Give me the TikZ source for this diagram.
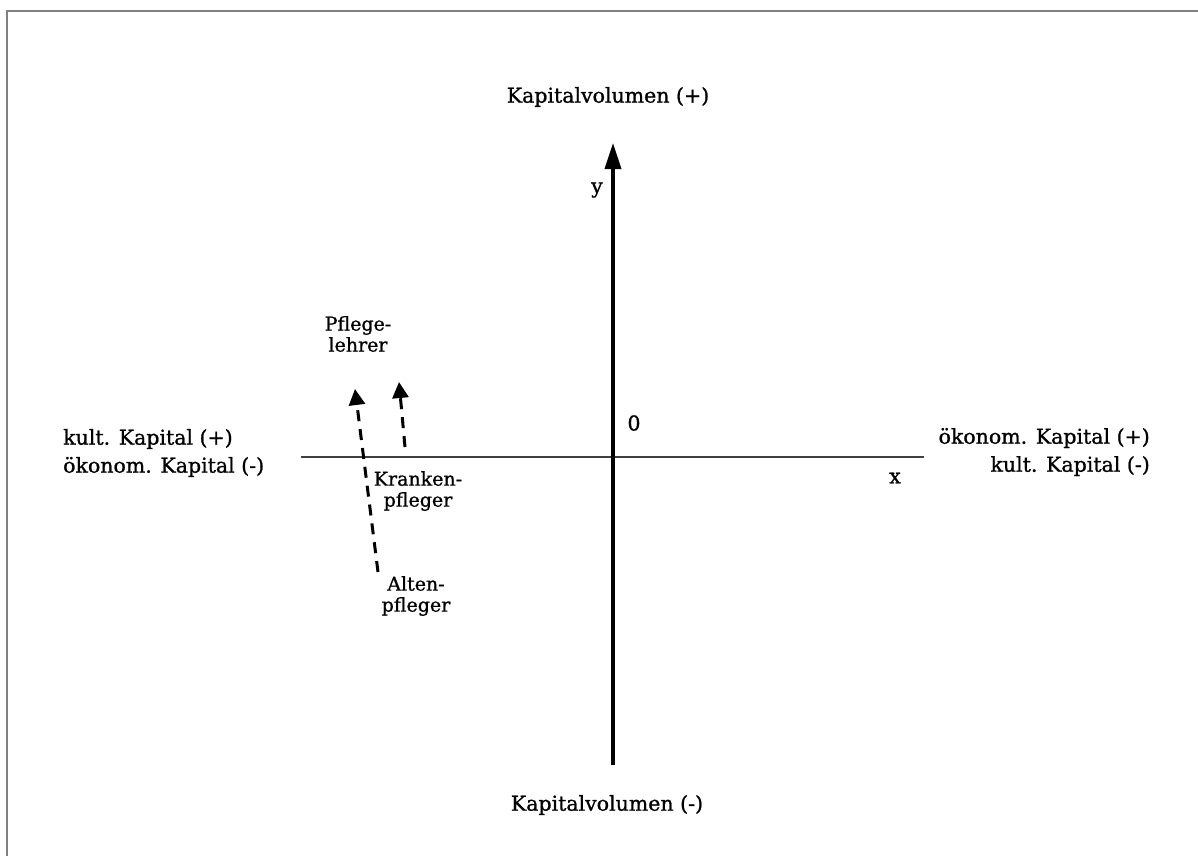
\documentclass[tikz,border=0pt]{standalone}
\usepackage{fontspec}
\setmainfont{DejaVu Serif}[FakeBold=1.0]
\usetikzlibrary{arrows.meta}
\begin{document}
\begin{tikzpicture}[x=1pt,y=-1pt,
  big/.style={font=\fontsize{20.5}{28}\selectfont, inner sep=0pt},
  small/.style={font=\fontsize{19}{21}\selectfont, inner sep=0pt, align=center},
  axis/.style={line width=3.5pt, -{Triangle[length=26pt,width=16pt]}},
  haxis/.style={line width=1.6pt, draw=black!75},
  move/.style={line width=3pt, dash pattern=on 11pt off 8pt, -{Triangle[length=16pt,width=16pt]}},
  frame/.style={line width=2.5pt, draw=black!50}]
\useasboundingbox (0,0) rectangle (1198,855);
\draw[frame] (7,900) -- (7,11) -- (1250,11);
% axes
\coordinate (xl) at (301,457);
\coordinate (xr) at (924,457);
\coordinate (yb) at (613,765);
\coordinate (yt) at (613,143);
\draw[haxis] (xl) -- (xr);
\draw[axis] (yb) -- (yt);
\node[big] (ly) at (597,190) {y};
\node[big] (l0) at (634,423) {0};
\node[big] (lx) at (895,478) {x};
\node[big] (top) at (608,97) {Kapitalvolumen (+)};
\node[big] (bot) at (607,805) {Kapitalvolumen (-)};
\node[big, align=left, anchor=west] (left) at (63,453) {kult. Kapital (+)\\ökonom. Kapital (-)};
\node[big, align=right, anchor=east] (right) at (1150,452) {ökonom. Kapital (+)\\kult. Kapital (-)};
% professions
\node[small] (pl) at (358,334) {Pflege-\\lehrer};
\node[small] (kp) at (418,491) {Kranken-\\pfleger};
\node[small] (ap) at (416,596) {Alten-\\pfleger};
\coordinate (a1s) at (378,572);
\coordinate (a1e) at (355,389);
\coordinate (a2s) at (405,447);
\coordinate (a2e) at (399,382);
\draw[move] (a1s) -- (a1e);
\draw[move] (a2s) -- (a2e);
\end{tikzpicture}
\end{document}
